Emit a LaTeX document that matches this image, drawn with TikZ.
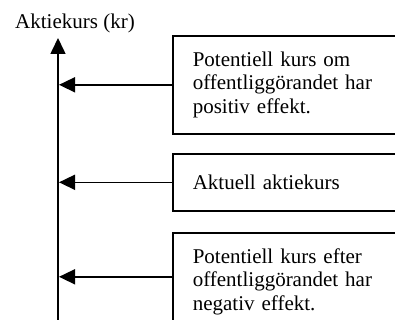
\documentclass[tikz,border=0pt]{standalone}
\usepackage{fontspec}
\setmainfont{Liberation Serif}
\usetikzlibrary{arrows.meta}
\begin{document}
\begin{tikzpicture}[x=1pt,y=-1pt,
  boxnode/.style={draw, line width=1.6pt, anchor=north west, text width=228pt, inner xsep=20pt, inner ysep=0pt, align=left, font=\fontsize{21}{23.5}\selectfont},
  arr/.style={line width=1.6pt, -{Triangle[length=16pt,width=15pt]}},
  lbl/.style={font=\fontsize{21}{23.5}\selectfont, inner sep=0pt}]
\useasboundingbox (0,0) rectangle (395,320);
\clip (0,0) rectangle (395,320);
\coordinate (axb) at (58,330);
\coordinate (axt) at (58,38);
\draw[arr] (axb) -- (axt);
\node[lbl, anchor=base] (ylabel) at (75,29) {Aktiekurs (kr)};
\node[boxnode, minimum height=98pt] (box1) at (172,35) {Potentiell kurs om\\offentliggörandet har\\positiv effekt.};
\node[boxnode, minimum height=57pt] (box2) at (172,153) {Aktuell aktiekurs};
\node[boxnode, minimum height=98pt] (box3) at (172,232) {Potentiell kurs efter\\offentliggörandet har\\negativ effekt.};
\coordinate (a1) at (box1.west -| 59,0);
\coordinate (a2) at (box2.west -| 59,0);
\coordinate (b3) at ([yshift=5pt]box3.west);
\coordinate (a3) at (b3 -| 59,0);
\draw[arr] (box1.west) -- (a1);
\draw[arr] (box2.west) -- (a2);
\draw[arr] (b3) -- (a3);
\end{tikzpicture}
\end{document}
